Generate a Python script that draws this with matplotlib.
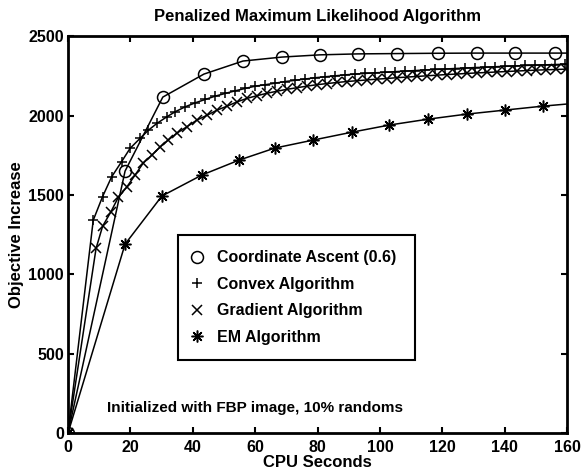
#!/usr/bin/python3
"""
Penalized Maximum Likelihood Algorithm: objective increase vs CPU seconds
for four algorithms, initialized with an FBP image.
"""

import matplotlib
matplotlib.use("Agg")
import matplotlib.pyplot as plt
from matplotlib.lines import Line2D

# Coordinate Ascent (0.6)
ca_time = [0, 18.3, 30.4, 43.6, 56.1, 68.6, 80.8, 92.9, 105.4, 118.6, 131.0, 143.3, 156.0, 168.5]
ca_obj = [0, 1650, 2116, 2261, 2343, 2368, 2382, 2388, 2390, 2392, 2393, 2393, 2393, 2393]

# Convex Algorithm
cvx_time = [0, 8.1, 11.1, 14.0, 17.2, 19.9, 23.1, 25.8, 28.5, 31.7, 34.4, 37.6, 40.8, 44.0,
            47.2, 50.4, 53.7, 56.9, 60.1, 63.3, 66.5, 69.7, 72.9, 76.1, 79.3, 82.5, 85.7,
            88.9, 92.1, 95.3, 98.5, 101.7, 104.9, 108.1, 111.3, 114.5, 117.7, 120.9, 124.1,
            127.3, 130.5, 133.7, 136.9, 140.1, 143.3, 146.5, 149.7, 152.9, 156.1, 159.3, 162.5]
cvx_obj = [0, 1341, 1490, 1614, 1710, 1793, 1856, 1908, 1950, 1992, 2024, 2055, 2080, 2101,
           2122, 2139, 2156, 2171, 2185, 2194, 2204, 2214, 2222, 2230, 2238, 2244, 2250,
           2256, 2261, 2265, 2269, 2272, 2276, 2280, 2283, 2287, 2290, 2293, 2296,
           2299, 2302, 2304, 2307, 2310, 2312, 2315, 2317, 2319, 2321, 2323, 2325]

# Gradient Algorithm
grad_time = [0, 9.0, 11.1, 13.8, 16.1, 18.9, 21.5, 24.1, 26.9, 29.6, 32.1, 34.9, 38.1, 41.3,
             44.6, 47.8, 51.0, 54.2, 57.4, 60.6, 63.8, 67.0, 70.2, 73.4, 76.6, 79.8, 83.0,
             86.2, 89.4, 92.6, 95.8, 99.0, 102.2, 105.4, 108.6, 111.8, 115.0, 118.2, 121.4,
             124.6, 127.8, 131.0, 134.2, 137.4, 140.6, 143.8, 147.0, 150.2, 153.4, 156.6, 159.8]
grad_obj = [0, 1163, 1303, 1395, 1484, 1551, 1625, 1700, 1751, 1803, 1845, 1889, 1929, 1971,
            2002, 2034, 2059, 2086, 2108, 2125, 2140, 2153, 2165, 2175, 2185, 2194, 2201,
            2208, 2214, 2219, 2224, 2229, 2233, 2238, 2242, 2246, 2250, 2254, 2258,
            2261, 2265, 2268, 2271, 2274, 2277, 2280, 2283, 2286, 2288, 2290, 2292]

# EM Algorithm
em_time = [0, 18.3, 30.1, 42.9, 54.8, 66.3, 78.5, 91.0, 103.0, 115.4, 127.9, 140.0, 152.2, 164.4]
em_obj = [0, 1190, 1493, 1625, 1719, 1795, 1845, 1895, 1940, 1977, 2009, 2034, 2059, 2080]

labels = ["Coordinate Ascent (0.6)", "Convex Algorithm", "Gradient Algorithm", "EM Algorithm"]
x_ticks = [0, 20, 40, 60, 80, 100, 120, 140, 160]
y_ticks = [0, 500, 1000, 1500, 2000, 2500]

plt.rcParams["font.family"] = ["Liberation Sans", "DejaVu Sans"]
plt.rcParams["font.weight"] = "bold"

ASTERISK = (8, 2, 0)
MARKERS = ["o", "+", "x", ASTERISK]
SIZES = [8.6, 7.5, 7.0, 8.5]


def plot_curves(ax):
    """Draws the four series with MATLAB-style markers."""
    kw = dict(color="black", linewidth=1.1, markeredgewidth=1.1, markerfacecolor="none")
    series = [(ca_time, ca_obj), (cvx_time, cvx_obj), (grad_time, grad_obj), (em_time, em_obj)]
    for (t, obj), m, s in zip(series, MARKERS, SIZES):
        ax.plot(t, obj, marker=m, markersize=s, **kw)


def style_axes(ax):
    ax.set_xlim(0, 160)
    ax.set_ylim(0, 2500)
    ax.set_xticks(x_ticks)
    ax.set_yticks(y_ticks)
    ax.tick_params(direction="in", length=4, width=1.5, labelsize=11.5,
                   top=True, right=True)
    ax.tick_params(axis="x", pad=5)
    ax.tick_params(axis="y", pad=3)
    for lab in ax.get_xticklabels() + ax.get_yticklabels():
        lab.set_fontweight("bold")
    for sp in ax.spines.values():
        sp.set_linewidth(2.0)
    ax.set_xlabel("CPU Seconds", fontsize=12, fontweight="bold", labelpad=0)
    ax.set_ylabel("Objective Increase", fontsize=12, fontweight="bold", labelpad=3)
    ax.set_title("Penalized Maximum Likelihood Algorithm", fontsize=12,
                 fontweight="bold", pad=11)


def add_legend(ax):
    handles = [Line2D([], [], linestyle="none", marker=m, markersize=s, color="black",
                      markerfacecolor="none", markeredgewidth=1.1)
               for m, s in zip(MARKERS, SIZES)]
    leg = ax.legend(handles, labels, loc="upper left", bbox_to_anchor=(0.22, 0.189, 0.475, 0.31),
                    mode="expand", prop={"weight": "bold", "size": 11.5},
                    frameon=True, fancybox=False, framealpha=1, borderpad=0.95,
                    labelspacing=0.72, handlelength=0.5, handletextpad=1.0, borderaxespad=0)
    leg.get_frame().set_edgecolor("black")
    leg.get_frame().set_linewidth(1.5)


def main():
    fig = plt.figure(figsize=(5.81, 4.75), dpi=100)
    ax = fig.add_axes([0.117, 0.088, 0.859, 0.836])
    plot_curves(ax)
    style_axes(ax)
    add_legend(ax)
    ax.text(0.078, 0.063, "Initialized with FBP image, 10% randoms", transform=ax.transAxes,
            fontsize=11, fontweight="bold", va="center")
    fig.savefig("out.png", dpi=100)


if __name__ == "__main__":
    main()
